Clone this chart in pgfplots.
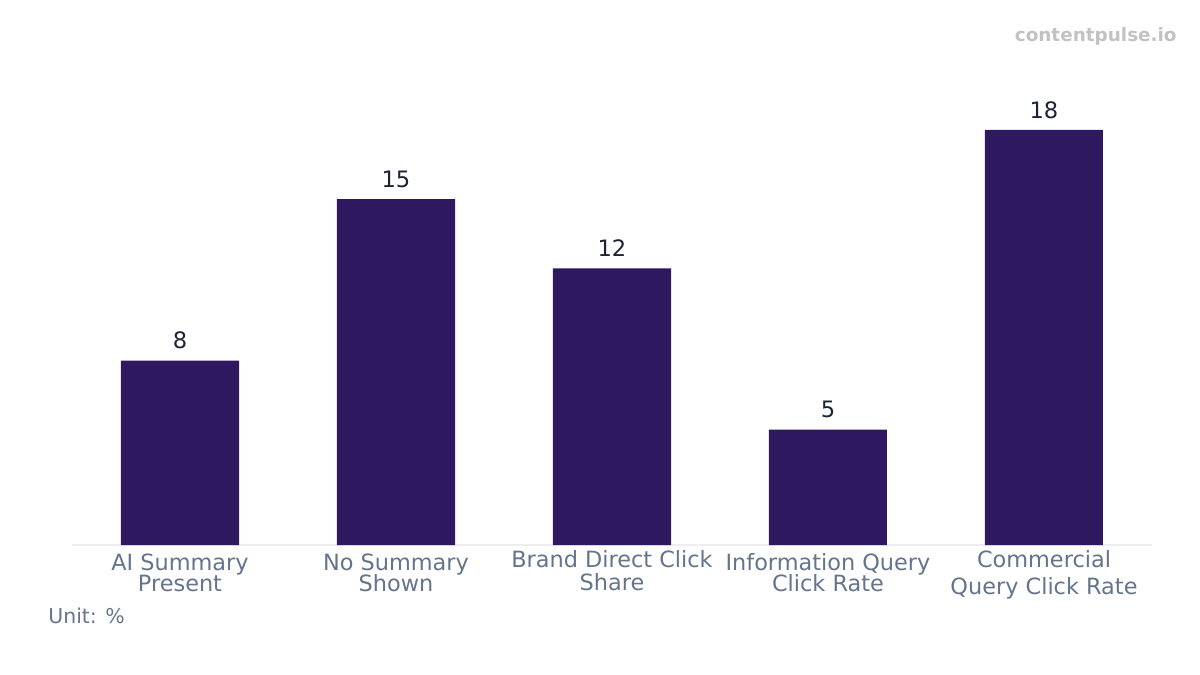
\documentclass[border=0pt]{standalone}
\usepackage{pgfplots}
\pgfplotsset{compat=1.18}
\usepackage{fontspec}
\setmainfont{DejaVu Sans}
\definecolor{barcol}{HTML}{2E1860}
\definecolor{labcol}{HTML}{64748B}
\definecolor{valcol}{HTML}{1E2235}
\definecolor{markcol}{HTML}{C2C2C2}
\definecolor{basecol}{HTML}{EEEEF0}
\begin{document}
\begin{tikzpicture}[
  lab/.style={anchor=base, inner sep=0pt, text=labcol, font=\fontsize{11.2}{13}\selectfont}]
\useasboundingbox (0,0) rectangle (600pt,337.5pt);
\begin{axis}[
  at={(36pt,65pt)}, anchor=south west,
  scale only axis, width=540pt, height=230.6pt,
  xmin=-0.5, xmax=4.5, ymin=0, ymax=20,
  axis x line*=bottom, axis y line=none,
  axis line style={draw=basecol, line width=0.6pt},
  xtick=\empty, major tick length=0pt,
  ybar, bar width=59pt,
  /pgf/number format/assume math mode=true,
  nodes near coords,
  every node near coord/.append style={text=valcol, inner sep=0pt, yshift=5.5pt,
    font=\fontsize{11.3}{13}\selectfont},
  clip=false,
]
\addplot[fill=barcol, draw=none] coordinates {(0,8) (1,15) (2,12) (3,5) (4,18)};
% category names, two lines each
\node[lab, yshift=-12.5pt] at (axis cs:0,0) {AI Summary};
\node[lab, yshift=-23pt] at (axis cs:0,0) {Present};
\node[lab, yshift=-12.5pt] at (axis cs:1,0) {No Summary};
\node[lab, yshift=-23pt] at (axis cs:1,0) {Shown};
\node[lab, yshift=-11pt] at (axis cs:2,0) {Brand Direct Click};
\node[lab, yshift=-22.5pt] at (axis cs:2,0) {Share};
\node[lab, yshift=-12.8pt] at (axis cs:3,0) {Information Query};
\node[lab, yshift=-23pt] at (axis cs:3,0) {Click Rate};
\node[lab, yshift=-11pt] at (axis cs:4,0) {Commercial};
\node[lab, yshift=-24.5pt] at (axis cs:4,0) {Query Click Rate};
\end{axis}
\node[anchor=east, inner sep=0pt, text=markcol, font=\fontsize{9.2}{11}\selectfont\bfseries] at (588.5pt,319.5pt) {contentpulse.io};
\node[anchor=west, inner sep=0pt, text=labcol, font=\fontsize{10.2}{12}\selectfont] at (24pt,29.5pt) {Unit: \%};
\end{tikzpicture}
\end{document}
